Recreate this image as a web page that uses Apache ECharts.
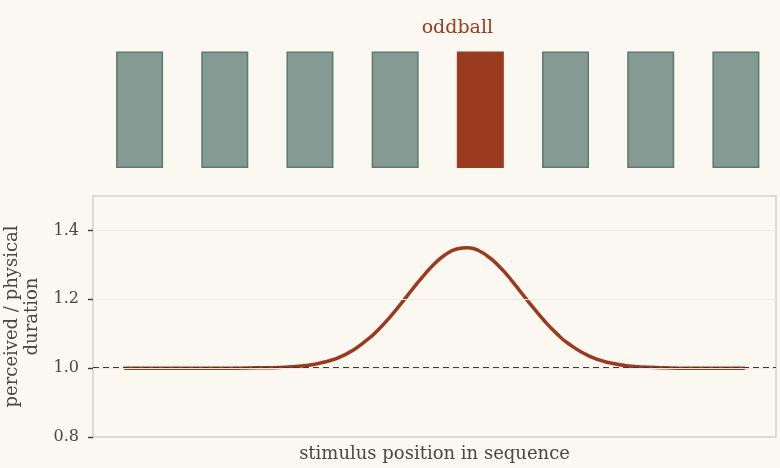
<!DOCTYPE html>
<html><head><meta charset="utf-8">
<script src="https://cdn.jsdelivr.net/npm/echarts@6/dist/echarts.min.js"></script>
<style>html,body{margin:0;padding:0;background:#fbf8f2;}#c{width:780px;height:468px;}</style>
</head><body><div id="c"></div>
<script>
// stimulus sequence (top panel)
const stimulusCategories = ['1','2','3','4','5','6','7','8'];
const stimulusHeights = [1,1,1,1,1,1,1,1];
const oddballIndex = 4;
const oddballLabel = 'oddball';
// perceived / physical duration curve (bottom panel)
const curveX = [0,0.25,0.5,0.75,1,1.25,1.5,1.75,2,2.25,2.5,2.75,2.875,3,3.125,3.25,3.375,3.5,3.625,3.75,3.875,4,4.125,4.25,4.375,4.5,4.625,4.75,4.875,5,5.25,5.5,5.75,6,6.25,6.5,6.75,7];
const curveY = [1.000,1.000,1.000,1.000,1.000,1.000,1.001,1.002,1.006,1.017,1.040,1.084,1.114,1.149,1.188,1.229,1.268,1.303,1.330,1.346,1.350,1.341,1.320,1.290,1.253,1.212,1.172,1.134,1.101,1.073,1.034,1.014,1.005,1.002,1.000,1.000,1.000,1.000];
const yTicks = [0.8,1.0,1.2,1.4];
const baselineValue = 1.0;

const FONT = 'DejaVu Serif';
const TXT = '#4a4641';
const RED = '#9a3a1e';
const GREY = '#849a93';
const GREY_EDGE = '#5b7a70';

const chart = echarts.init(document.getElementById('c'));
chart.setOption({
  backgroundColor: '#fbf8f2',
  animation: false,
  textStyle: {fontFamily: FONT},
  grid: [
    {left: 97, right: 1.5, top: 51.5, height: 116.5, containLabel: false, outerBoundsMode: 'none'},
    {left: 93, right: 4, top: 196, bottom: 31, containLabel: false, outerBoundsMode: 'none',
     show: true, borderColor: '#d9d1c3', borderWidth: 1.5, backgroundColor: 'transparent'}
  ],
  xAxis: [
    {gridIndex: 0, type: 'category', data: stimulusCategories, show: false},
    {gridIndex: 1, type: 'value', min: -0.35, max: 7.35,
     axisLine: {show: false, onZero: false}, axisTick: {show: false},
     axisLabel: {show: false}, splitLine: {show: false},
     name: 'stimulus position in sequence', nameLocation: 'middle', nameGap: 8,
     nameTextStyle: {fontFamily: FONT, fontSize: 18, color: TXT}}
  ],
  yAxis: [
    {gridIndex: 0, type: 'value', min: 0, max: 1, show: false},
    {gridIndex: 1, type: 'value', min: 0.8, max: 1.5, interval: 0.1,
     axisLine: {show: false, onZero: false},
     axisTick: {show: true, length: 5, customValues: yTicks, lineStyle: {color: '#3f3b37', width: 1.4}},
     axisLabel: {fontFamily: FONT, fontSize: 16, color: TXT, margin: 14, customValues: yTicks,
       formatter: v => Number(v).toFixed(1)},
     splitLine: {show: false},
     name: 'perceived / physical\nduration', nameLocation: 'middle', nameGap: 43, nameRotate: 90,
     nameTextStyle: {fontFamily: FONT, fontSize: 18, color: TXT, lineHeight: 20}}
  ],
  series: [
    {
      type: 'bar', xAxisIndex: 0, yAxisIndex: 0, barWidth: 47,
      data: stimulusHeights.map((h, i) => i === oddballIndex ? {
        value: h,
        itemStyle: {color: RED, borderColor: RED, borderWidth: 2.5},
        label: {show: true, position: 'top', formatter: oddballLabel, offset: [-23, -9],
          fontFamily: FONT, fontSize: 19, color: RED}
      } : {value: h}),
      itemStyle: {color: GREY, borderColor: GREY_EDGE, borderWidth: 1.5}
    },
    {
      type: 'line', xAxisIndex: 1, yAxisIndex: 1, smooth: true, symbol: 'none',
      data: curveX.map((x, i) => [x, curveY[i]]),
      lineStyle: {color: RED, width: 3.5},
      z: 3
    },
    {
      // dashed reference line at physical = perceived
      type: 'line', xAxisIndex: 1, yAxisIndex: 1, data: [], z: 4,
      markLine: {
        silent: true, symbol: 'none', label: {show: false},
        lineStyle: {color: '#3a3632', type: [6, 4], width: 1.8, opacity: 1},
        emphasis: {disabled: true},
        data: [{yAxis: baselineValue}]
      }
    },
    {
      // horizontal grid lines at tick values
      type: 'line', xAxisIndex: 1, yAxisIndex: 1, data: [], z: 1,
      markLine: {
        silent: true, symbol: 'none', label: {show: false},
        lineStyle: {color: '#efe9df', type: 'solid', width: 1.2, opacity: 1},
        data: yTicks.filter(t => t !== 0.8).map(t => ({yAxis: t}))
      }
    }
  ]
});
</script></body></html>
